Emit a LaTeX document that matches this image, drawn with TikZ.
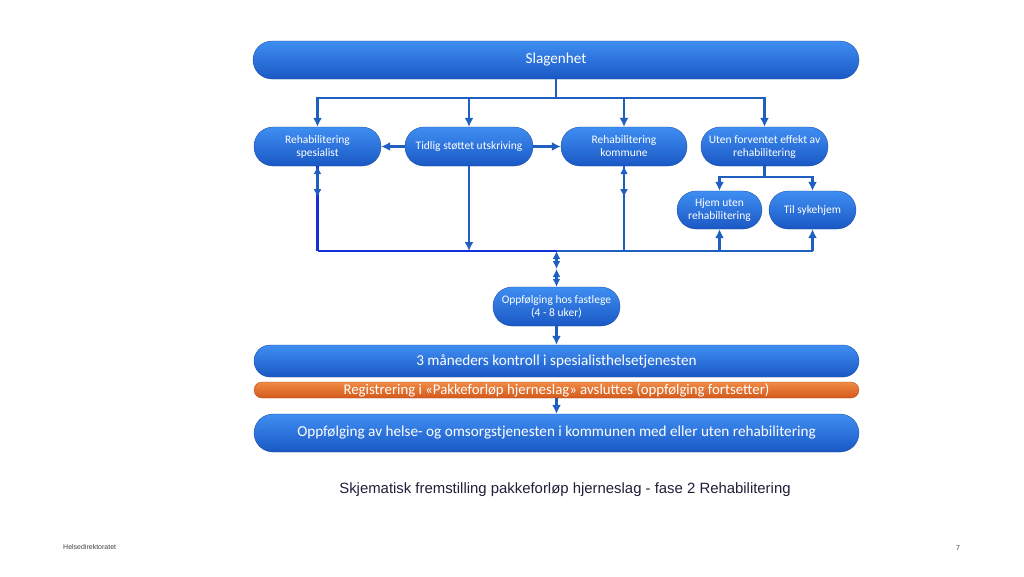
\documentclass[tikz,border=0pt]{standalone}
\usepackage{fontspec}
\setmainfont{Liberation Sans}
\newfontfamily\boxfont{Carlito}
\usetikzlibrary{arrows.meta}
\definecolor{btop}{HTML}{3F8EF2}
\definecolor{bbot}{HTML}{1A58C4}
\definecolor{otop}{HTML}{F08A45}
\definecolor{obot}{HTML}{D45A1C}
\definecolor{conn}{HTML}{1F5FC0}
\definecolor{busblue}{HTML}{1530D8}
\definecolor{captxt}{HTML}{1F1F3A}
\tikzset{
  bluebox/.style={rounded corners=#1, top color=btop, bottom color=bbot, draw=bbot!80!black, line width=0.3pt,
    text=white, align=center, inner sep=0pt, anchor=center},
  smalltxt/.style={font=\boxfont\fontsize{11.5}{13}\selectfont},
  bigtxt/.style={font=\boxfont\fontsize{15.2}{17}\selectfont},
  orangebox/.style={rounded corners=8pt, top color=otop, bottom color=obot, draw=obot!80!black, line width=0.3pt,
    text=white, align=center, inner sep=0pt, anchor=center, font=\boxfont\fontsize{14.8}{15}\selectfont},
  conline/.style={draw=conn, line width=2.6pt},
  arr/.style={conline, -{Latex[length=9pt,width=9pt]}},
  arrboth/.style={conline, {Latex[length=8pt,width=8pt]}-{Latex[length=8pt,width=8pt]}},
}
\begin{document}
\begin{tikzpicture}[x=1pt,y=-1pt]
\useasboundingbox (0,0) rectangle (1024,576);
\fill[white] (0,0) rectangle (1024,576);

\node[bluebox=19pt, bigtxt, minimum width=606pt, minimum height=38pt] (slag) at (556,60) {Slagenhet};

\node[bluebox=19pt, smalltxt, minimum width=127pt, minimum height=39pt] (spes) at (317.5,146.5) {Rehabilitering\\spesialist};
\node[bluebox=19pt, smalltxt, minimum width=128pt, minimum height=39pt] (tidlig) at (469,146.5) {Tidlig støttet utskriving};
\node[bluebox=19pt, smalltxt, minimum width=126pt, minimum height=39pt] (komm) at (624,146.5) {Rehabilitering\\kommune};
\node[bluebox=19pt, smalltxt, minimum width=127pt, minimum height=39pt] (uten) at (764.5,146.5) {Uten forventet effekt av\\rehabilitering};

\node[bluebox=19pt, smalltxt, minimum width=85pt, minimum height=38pt] (hjem) at (719.5,210) {Hjem uten\\rehabilitering};
\node[bluebox=19pt, smalltxt, minimum width=87pt, minimum height=38pt] (til) at (812.5,210) {Til sykehjem};

\node[bluebox=19pt, smalltxt, minimum width=127pt, minimum height=39pt] (fast) at (556.5,306.5) {Oppfølging hos fastlege\\(4 - 8 uker)};

\node[bluebox=16pt, bigtxt, minimum width=605pt, minimum height=32pt] (kontroll) at (556.5,361) {3 måneders kontroll i spesialisthelsetjenesten};
\node[orangebox, minimum width=605pt, minimum height=16pt] (reg) at (556.5,390) {Registrering i «Pakkeforløp hjerneslag» avsluttes (oppfølging fortsetter)};
\node[bluebox=19pt, bigtxt, minimum width=605pt, minimum height=38pt] (oppf) at (556.5,433) {Oppfølging av helse- og omsorgstjenesten i kommunen med eller uten rehabilitering};

% top distribution bus
\coordinate (bt) at (556,98);
\draw[conline] (slag.south) -- (bt);
\draw[arr] (bt) -| (spes.north);
\draw[arr] (bt) -| (tidlig.north);
\draw[arr] (bt) -| (komm.north);
\draw[arr] (bt) -| (uten.north);

% tidlig sideways
\draw[arr] (tidlig.west) -- (spes.east);
\draw[arr] (tidlig.east) -- (komm.west);

% uten branch
\coordinate (ub) at (764.5,177);
\draw[conline] (uten.south) -- (ub);
\draw[arr] (ub) -| (hjem.north);
\draw[arr] (ub) -| (til.north);

% bottom bus
\coordinate (bb) at (556.5,251);
\draw[draw=busblue, line width=2.6pt] (spes.south |- bb) -- (bb);
\draw[conline] (bb) -- (til.south |- bb);

\draw[draw=busblue, line width=2.6pt] (spes.south |- bb) -- (spes.south);
\draw[arrboth] (spes.south) -- ([yshift=-31pt]spes.south);
\draw[conline] (komm.south |- bb) -- (komm.south);
\draw[arrboth] (komm.south) -- ([yshift=-31pt]komm.south);
\draw[arr] (tidlig.south) -- (tidlig.south |- bb);
\draw[arr] (hjem.south |- bb) -- (hjem.south);
\draw[arr] (til.south |- bb) -- (til.south);

% centre to fastlege
\coordinate (fm) at (556.5,269);
\draw[arrboth] (bb) -- (fm);
\draw[arrboth] (fm) -- (fast.north);

\draw[arr] (fast.south) -- (kontroll.north);
\draw[arr] (reg.south) -- (oppf.north);

\node[text=captxt, font=\fontsize{14.9}{17}\selectfont, anchor=center] (cap) at (565,490) {Skjematisk fremstilling pakkeforløp hjerneslag - fase 2 Rehabilitering};

\node[text=black!75, font=\fontsize{7}{8}\selectfont, anchor=west, inner sep=0pt] (hd) at (63,547) {Helsedirektoratet};
\node[text=black!75, font=\fontsize{7}{8}\selectfont, anchor=center, inner sep=0pt] (pg) at (958,548) {7};
\end{tikzpicture}
\end{document}
